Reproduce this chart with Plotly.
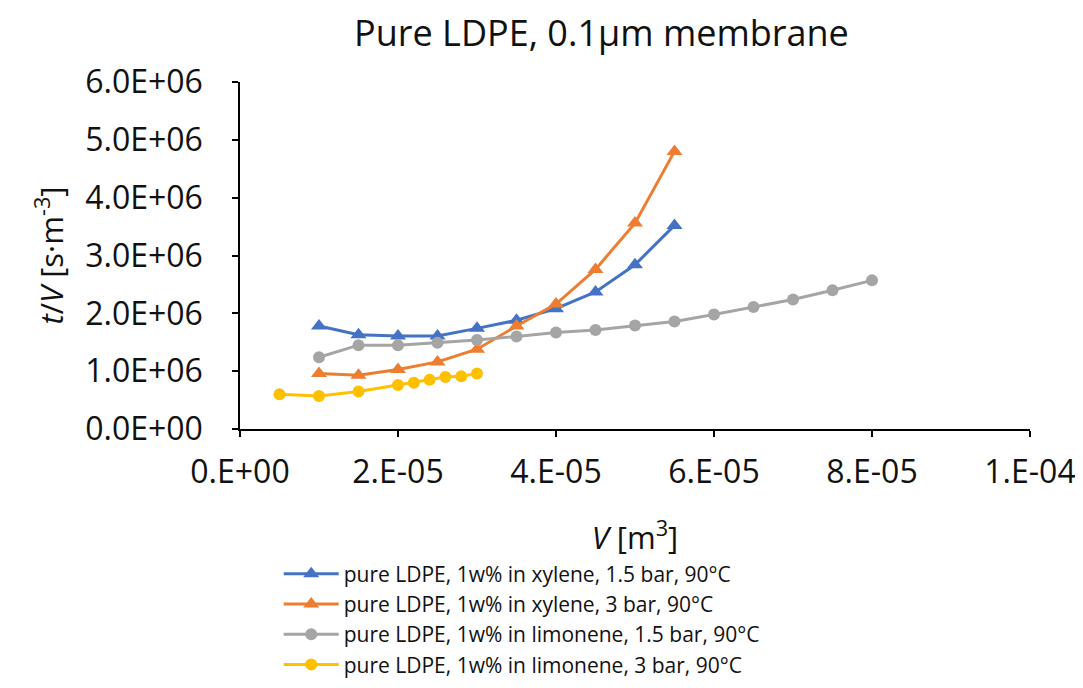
import plotly.graph_objects as go

# Data
v_xyl = [1.0e-5, 1.5e-5, 2.0e-5, 2.5e-5, 3.0e-5, 3.5e-5, 4.0e-5, 4.5e-5, 5.0e-5, 5.5e-5]
tv_xyl_15 = [1.78e6, 1.63e6, 1.61e6, 1.61e6, 1.74e6, 1.88e6, 2.08e6, 2.37e6, 2.84e6, 3.52e6]
tv_xyl_3 = [0.96e6, 0.93e6, 1.03e6, 1.16e6, 1.38e6, 1.78e6, 2.16e6, 2.76e6, 3.56e6, 4.80e6]

v_lim_15 = [1.0e-5, 1.5e-5, 2.0e-5, 2.5e-5, 3.0e-5, 3.5e-5, 4.0e-5, 4.5e-5, 5.0e-5, 5.5e-5,
            6.0e-5, 6.5e-5, 7.0e-5, 7.5e-5, 8.0e-5]
tv_lim_15 = [1.24e6, 1.45e6, 1.45e6, 1.49e6, 1.54e6, 1.60e6, 1.67e6, 1.71e6, 1.79e6, 1.86e6,
             1.98e6, 2.11e6, 2.24e6, 2.40e6, 2.57e6]

v_lim_3 = [0.5e-5, 1.0e-5, 1.5e-5, 2.0e-5, 2.2e-5, 2.4e-5, 2.6e-5, 2.8e-5, 3.0e-5]
tv_lim_3 = [0.60e6, 0.57e6, 0.65e6, 0.76e6, 0.80e6, 0.85e6, 0.90e6, 0.91e6, 0.96e6]

names = [
    "pure LDPE, 1w% in xylene, 1.5 bar, 90°C",
    "pure LDPE, 1w% in xylene, 3 bar, 90°C",
    "pure LDPE, 1w% in limonene, 1.5 bar, 90°C",
    "pure LDPE, 1w% in limonene, 3 bar, 90°C",
]
colors = ["#4472C4", "#ED7D31", "#A5A5A5", "#FFC000"]

x_tickvals = [0, 2e-5, 4e-5, 6e-5, 8e-5, 1e-4]
x_ticktext = ["0.E+00", "2.E-05", "4.E-05", "6.E-05", "8.E-05", "1.E-04"]
y_tickvals = [0, 1e6, 2e6, 3e6, 4e6, 5e6, 6e6]
y_ticktext = ["0.0E+00", "1.0E+06", "2.0E+06", "3.0E+06", "4.0E+06", "5.0E+06", "6.0E+06"]

FONT = "Open Sans"
TXT = "#111111"
fig = go.Figure()
series = [
    (v_xyl, tv_xyl_15, "triangle-up", 14),
    (v_xyl, tv_xyl_3, "triangle-up", 14),
    (v_lim_15, tv_lim_15, "circle", 12),
    (v_lim_3, tv_lim_3, "circle", 12),
]
for (xs, ys, sym, sz), name, c in zip(series, names, colors):
    fig.add_trace(go.Scatter(
        x=xs, y=ys, name=name, mode="lines+markers",
        line=dict(color=c, width=3),
        marker=dict(symbol=sym, size=sz, color=c),
    ))

fig.update_layout(
    width=1083, height=688,
    paper_bgcolor="white", plot_bgcolor="white",
    margin=dict(l=232, r=61, t=74, b=266),
    font=dict(family=FONT, color=TXT),
    title=dict(text="Pure LDPE, 0.1µm membrane", x=0.548, xanchor="center",
               y=0.963, yanchor="middle", font=dict(size=36, family=FONT, color=TXT)),
    showlegend=True,
    legend=dict(x=0.049, y=-0.355, xanchor="left", yanchor="top",
                font=dict(size=21, family=FONT, color=TXT),
                itemwidth=55, tracegroupgap=0, bgcolor="rgba(0,0,0,0)"),
)
fig.update_xaxes(
    range=[0, 1e-4], tickvals=x_tickvals, ticktext=x_ticktext,
    showgrid=False, zeroline=False, showline=True, linecolor="black", linewidth=1.5,
    ticks="outside", ticklen=6, tickcolor="black", tickwidth=1.5,
    tickfont=dict(size=32, family=FONT, color=TXT),
    ticklabelstandoff=8,
    title=dict(text="<i>V</i> [m<sup>3</sup>]", font=dict(size=31, family=FONT, color=TXT), standoff=36),
)
fig.update_yaxes(
    range=[0, 6e6], tickvals=y_tickvals, ticktext=y_ticktext,
    showgrid=False, zeroline=False, showline=True, linecolor="black", linewidth=1.5,
    ticks="outside", ticklen=6, tickcolor="black", tickwidth=1.5,
    tickfont=dict(size=32, family=FONT, color=TXT),
    ticklabelstandoff=23,
    title=dict(text="<i>t</i>/<i>V</i> [s·m<sup>-3</sup>]", font=dict(size=31, family=FONT, color=TXT), standoff=12),
)

fig.write_html("out.html")
